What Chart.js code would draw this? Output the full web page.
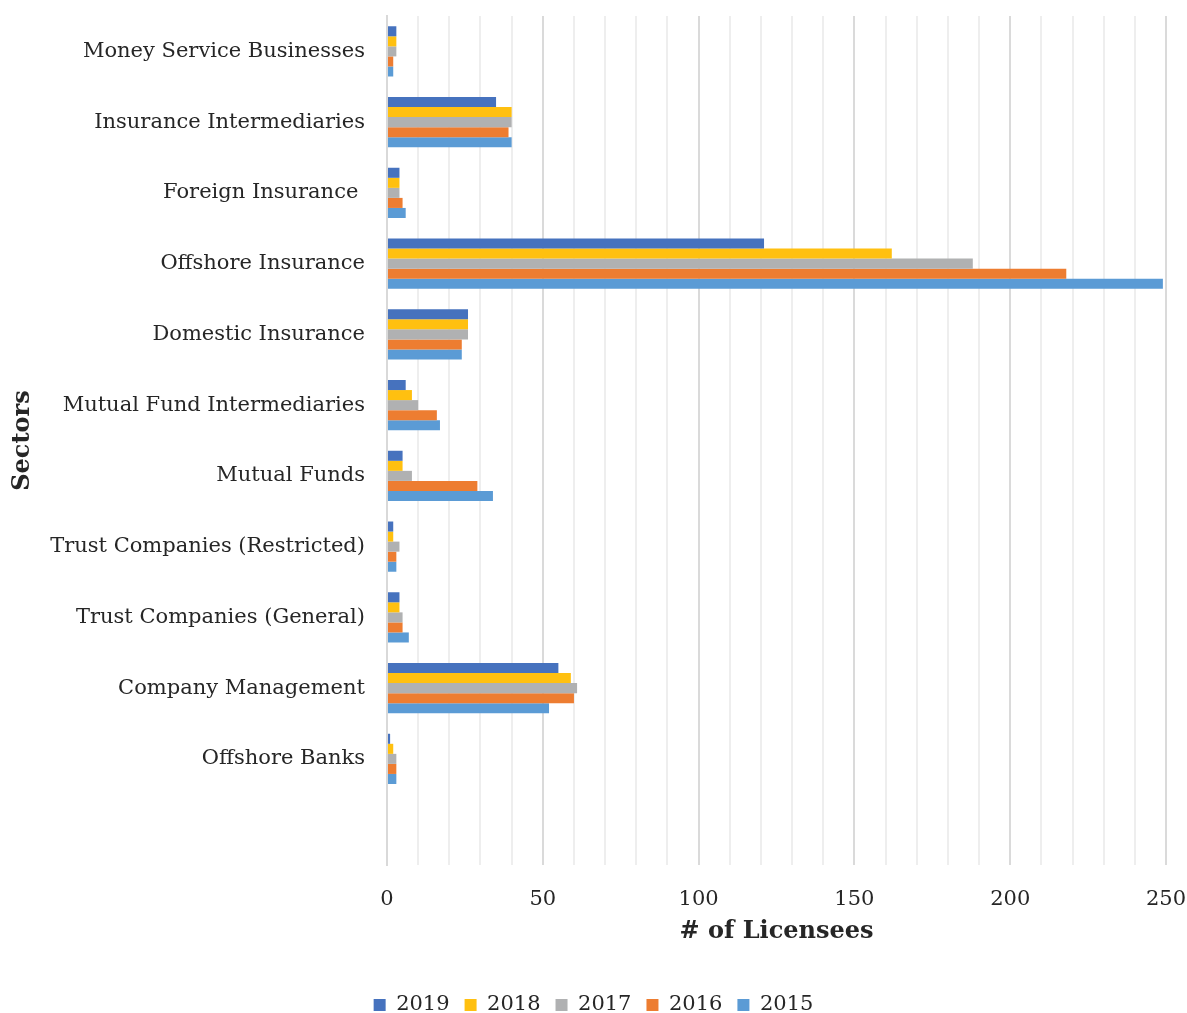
<!DOCTYPE html>
<html>
<head>
<meta charset="utf-8">
<script src="https://cdn.jsdelivr.net/npm/chart.js@4"></script>
<style>
    html, body { margin: 0; padding: 0; background: #fff; overflow: hidden; }
    #wrap { width: 1187px; height: 1013px; }
</style>
</head>
<body>
<div id="wrap"><canvas id="licensees"></canvas></div>
<script>
// last slot is left empty, the category axis keeps a blank band under Offshore Banks
const sectors = [
    "Money Service Businesses",
    "Insurance Intermediaries",
    "Foreign Insurance ",
    "Offshore Insurance",
    "Domestic Insurance",
    "Mutual Fund Intermediaries",
    "Mutual Funds",
    "Trust Companies (Restricted)",
    "Trust Companies (General)",
    "Company Management",
    "Offshore Banks",
    ""
];

const years = ["2019", "2018", "2017", "2016", "2015"];

const count2019 = [3, 35, 4, 121, 26, 6, 5, 2, 4, 55, 1, null];
const count2018 = [3, 40, 4, 162, 26, 8, 5, 2, 4, 59, 2, null];
const count2017 = [3, 40, 4, 188, 26, 10, 8, 4, 5, 61, 3, null];
const count2016 = [2, 39, 5, 218, 24, 16, 29, 3, 5, 60, 3, null];
const count2015 = [2, 40, 6, 249, 24, 17, 34, 3, 7, 52, 3, null];

const xTicks = [0, 50, 100, 150, 200, 250];

const yearColors = ['#4672BE', '#FFC010', '#B0B1B2', '#ED7D31', '#5B9BD5'];

function createLicenseesChart() {
    const canvas = document.getElementById('licensees');
    const serif = 'DejaVu Serif';
    const textColor = '#262626';

    const series = [count2019, count2018, count2017, count2016, count2015];

    const data = {
        labels: sectors,
        datasets: years.map((year, i) => ({
            label: year,
            data: series[i],
            backgroundColor: yearColors[i],
            borderWidth: 0,
            categoryPercentage: 0.71,
            barPercentage: 1.0
        }))
    };

    const config = {
        type: 'bar',
        data: data,
        options: {
            indexAxis: 'y',
            responsive: true,
            maintainAspectRatio: false,
            animation: false,
            layout: {
                padding: { top: 16, right: 0, bottom: -12.5, left: 0 }
            },
            plugins: {
                tooltip: { enabled: false },
                legend: {
                    position: 'bottom',
                    labels: {
                        boxWidth: 12,
                        boxHeight: 12,
                        padding: 15,
                        color: textColor,
                        font: { family: serif, size: 21 }
                    }
                }
            },
            scales: {
                x: {
                    min: 0,
                    max: 250,
                    // fixed band under the plot for tick labels + title,
                    // room on the right for the "250" label
                    afterFit: (scale) => {
                        scale.height = 114.5;
                        scale.paddingLeft = 0;
                        scale.paddingRight = 21;
                    },
                    ticks: {
                        stepSize: 10,
                        autoSkip: false,
                        maxRotation: 0,
                        padding: 22,
                        color: textColor,
                        font: { family: serif, size: 21 },
                        callback: (v) => xTicks.includes(v) ? String(v) : ''
                    },
                    grid: {
                        drawTicks: false,
                        lineWidth: 2,
                        color: (c) => (c.tick && c.tick.value % 50 === 0) ? '#dadada' : '#eeeeee'
                    },
                    border: { display: false },
                    title: {
                        display: true,
                        text: '# of Licensees',
                        color: textColor,
                        font: { family: serif, size: 24, weight: 'bold' },
                        padding: { top: 0, bottom: 33 }
                    }
                },
                y: {
                    afterFit: (scale) => {
                        scale.width = 387;
                        scale.paddingTop = 0;
                        scale.paddingBottom = 0;
                    },
                    ticks: {
                        padding: 22,
                        color: textColor,
                        font: { family: serif, size: 21 }
                    },
                    grid: { display: false, drawTicks: false },
                    border: { display: true, color: '#d9d9d9', width: 2 },
                    title: {
                        display: true,
                        text: 'Sectors',
                        color: textColor,
                        font: { family: serif, size: 24, weight: 'bold' },
                        padding: { top: 8, bottom: 0 }
                    }
                }
            }
        }
    };

    return new Chart(canvas, config);
}

createLicenseesChart();
</script>
</body>
</html>
